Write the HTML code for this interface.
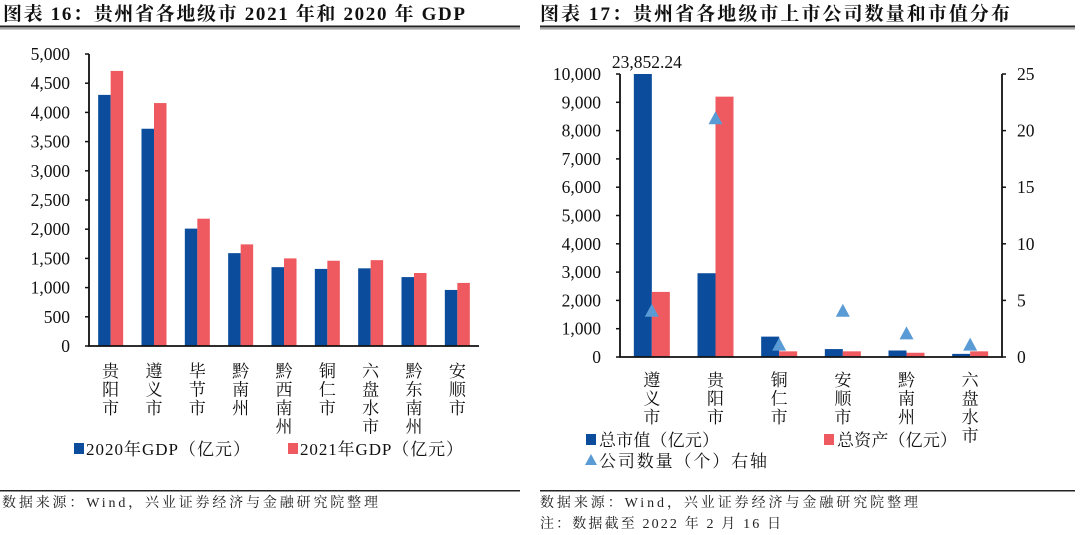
<!DOCTYPE html>
<html><head><meta charset="utf-8">
<style>
html,body{margin:0;padding:0;background:#fff;}
svg{display:block;font-family:"Liberation Serif","Noto Serif CJK SC",serif;}
.t{font-family:"Liberation Serif","Noto Serif CJK SC",serif;font-weight:bold;font-size:19px;fill:#111;}
.f{font-family:"Liberation Serif","Noto Serif CJK SC",serif;font-size:14px;fill:#222;}
.tick{font-size:17.5px;fill:#111;}
</style></head>
<body>
<svg id="svg" width="1080" height="535" viewBox="0 0 1080 535">
  <text class="t" x="3" y="20" textLength="462" lengthAdjust="spacing">图表 16：贵州省各地级市 2021 年和 2020 年 GDP</text>
  <rect x="0" y="25.5" width="520" height="2" fill="#222"/>
  <rect x="0" y="28.5" width="520" height="0.8" fill="#555"/>
  <text class="t" x="540" y="20" textLength="470" lengthAdjust="spacing">图表 17：贵州省各地级市上市公司数量和市值分布</text>
  <rect x="540" y="25.5" width="535" height="2" fill="#222"/>
  <rect x="540" y="28.5" width="535" height="0.8" fill="#555"/>
  <rect x="0" y="490" width="520" height="1.5" fill="#222"/>
  <rect x="540" y="490" width="535" height="1.5" fill="#222"/>
  <text class="f" x="2" y="507" textLength="376" lengthAdjust="spacing">数据来源：Wind，兴业证券经济与金融研究院整理</text>
  <text class="f" x="540" y="507" textLength="378" lengthAdjust="spacing">数据来源：Wind，兴业证券经济与金融研究院整理</text>
  <text class="f" x="540" y="528" textLength="241" lengthAdjust="spacing">注：数据截至 2022 年 2 月 16 日</text>
  <g id="left"></g>
  <g id="right"></g>
</svg>
<script>
const NS="http://www.w3.org/2000/svg";
// Left chart data
const gdpCities=["贵阳市","遵义市","毕节市","黔南州","黔西南州","铜仁市","六盘水市","黔东南州","安顺市"];
const gdp2020=[4300,3720,2010,1590,1350,1320,1330,1180,960];
const gdp2021=[4710,4160,2180,1740,1500,1460,1470,1250,1080];
const gdpTicks=[0,500,1000,1500,2000,2500,3000,3500,4000,4500,5000];
// Right chart data
const capCities=["遵义市","贵阳市","铜仁市","安顺市","黔南州","六盘水市"];
const marketCap=[23852.24,2960,720,280,230,110];
const totalAssets=[2300,9200,200,200,150,200];
const companyCount=[4,21,1,4,2,1];
const capTicks=[0,1000,2000,3000,4000,5000,6000,7000,8000,9000,10000];
const countTicks=[0,5,10,15,20,25];

const BLUE="#0b4c9c", RED="#ee5a5f", TRI="#5b9bd5";
function mk(tag,attrs,parent,text){const e=document.createElementNS(NS,tag);for(const k in attrs)e.setAttribute(k,attrs[k]);if(text!==undefined)e.textContent=text;parent.appendChild(e);return e;}
function fmt(v){return v.toLocaleString('en-US');}

// ---- Left chart
(function(){
  const g=document.getElementById('left');
  const x0=89,x1=479,y0=346,yTop=54,max=5000;
  const y=v=>y0-(v/max)*(y0-yTop);
  const cw=(x1-x0)/gdpCities.length, bw=12.5;
  gdpTicks.forEach(t=>{
    const l=mk('line',{x1:x0-4,x2:x0,y1:y(t),y2:y(t),stroke:'#111','stroke-width':1.5},g);
    
    
    const tx=mk('text',{x:x0-19,y:y(t)+6,'text-anchor':'end',class:'tick'},g,fmt(t));
    
    
  });
  gdpCities.forEach((c,i)=>{
    const cx=x0+cw*(i+0.5);
    const b1=mk('rect',{x:cx-bw,y:y(gdp2020[i]),width:bw,height:y0-y(gdp2020[i]),fill:BLUE},g);
    
    
    const b2=mk('rect',{x:cx,y:y(gdp2021[i]),width:bw,height:y0-y(gdp2021[i]),fill:RED},g);
    
    
    [...c].forEach((ch,j)=>{
      const t=mk('text',{x:cx,y:377+j*18.5,'text-anchor':'middle','font-size':17,fill:'#111'},g,ch);
      
      
    });
  });
  const ax=mk('path',{d:`M${x0} ${yTop}V${y0}H${x1}`,fill:'none',stroke:'#111','stroke-width':1.8},g);
  
  
  const s1=mk('rect',{x:74,y:443,width:10,height:11,fill:BLUE},g);
  
  
  const l1=mk('text',{x:86,y:455,'font-size':17,fill:'#111',textLength:164,lengthAdjust:'spacing'},g,'2020年GDP（亿元）');
  
  
  const s2=mk('rect',{x:288,y:443,width:10,height:11,fill:RED},g);
  
  
  const l2=mk('text',{x:300,y:455,'font-size':17,fill:'#111',textLength:163,lengthAdjust:'spacing'},g,'2021年GDP（亿元）');
  
  
})();

// ---- Right chart
(function(){
  const g=document.getElementById('right');
  const x0=620,x1=1002,y0=357,yTop=74,max=10000,rmax=25;
  const y=v=>y0-(Math.min(v,max)/max)*(y0-yTop);
  const yr=v=>y0-(v/rmax)*(y0-yTop);
  const cw=(x1-x0)/capCities.length, bw=18;
  capTicks.forEach(t=>{
    const l=mk('line',{x1:x0-4,x2:x0,y1:y(t),y2:y(t),stroke:'#111','stroke-width':1.5},g);
    
    
    const tx=mk('text',{x:x0-19,y:y(t)+6,'text-anchor':'end',class:'tick'},g,fmt(t));
    
    
  });
  countTicks.forEach(t=>{
    const l=mk('line',{x1:x1,x2:x1+4,y1:yr(t),y2:yr(t),stroke:'#111','stroke-width':1.5},g);
    
    
    const tx=mk('text',{x:1017,y:yr(t)+6,class:'tick'},g,String(t));
    
    
  });
  capCities.forEach((c,i)=>{
    const cx=x0+cw*(i+0.5);
    const b1=mk('rect',{x:cx-bw,y:y(marketCap[i]),width:bw,height:y0-y(marketCap[i]),fill:BLUE},g);
    
    
    const b2=mk('rect',{x:cx,y:y(totalAssets[i]),width:bw,height:y0-y(totalAssets[i]),fill:RED},g);
    
    
    if(marketCap[i]>max){
      const lb=mk('text',{x:cx-5,y:y(max)-6,'text-anchor':'middle','font-size':17.5,fill:'#111'},g,fmt(marketCap[i]));
      
      
    }
    [...c].forEach((ch,j)=>{
      const t=mk('text',{x:cx,y:386+j*18.5,'text-anchor':'middle','font-size':17,fill:'#111'},g,ch);
      
      
    });
  });
  capCities.forEach((c,i)=>{
    const cx=x0+cw*(i+0.5), ty=yr(companyCount[i]);
    const p=mk('polygon',{points:`${cx},${ty-8} ${cx-7},${ty+5} ${cx+7},${ty+5}`,fill:TRI},g);
    
    
  });
  const ax=mk('path',{d:`M${x0} ${yTop}V${y0}H${x1}V${yTop}`,fill:'none',stroke:'#111','stroke-width':1.8},g);
  
  
  const s1=mk('rect',{x:586,y:434,width:10,height:11,fill:BLUE},g);
  
  
  const l1=mk('text',{x:599,y:446,'font-size':17,fill:'#111',textLength:120,lengthAdjust:'spacing'},g,'总市值（亿元）');
  
  
  const s2=mk('rect',{x:824,y:434,width:10,height:11,fill:RED},g);
  
  
  const l2=mk('text',{x:837,y:446,'font-size':17,fill:'#111',textLength:120,lengthAdjust:'spacing'},g,'总资产（亿元）');
  
  
  const s3=mk('polygon',{points:'591,454 585,465 597,465',fill:TRI},g);
  
  
  const l3=mk('text',{x:599,y:467,'font-size':17,fill:'#111',textLength:168,lengthAdjust:'spacing'},g,'公司数量（个）右轴');
  
  
})();
</script>
</body></html>
